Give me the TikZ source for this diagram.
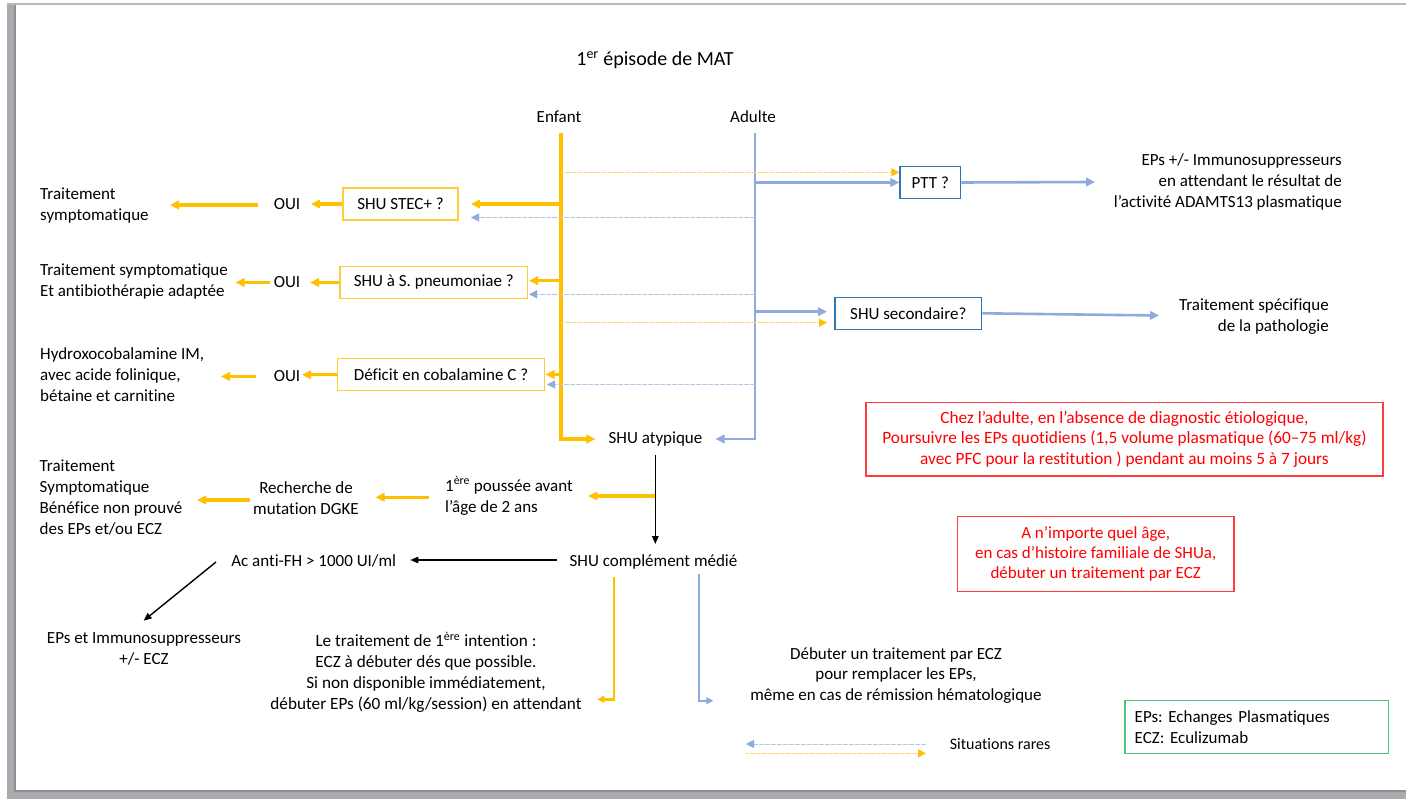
\documentclass[tikz,border=0pt]{standalone}
\usepackage{fontspec}
\setmainfont{Carlito}[Ligatures={NoCommon}]
\usetikzlibrary{arrows.meta}
\definecolor{gold}{HTML}{FFC000}
\definecolor{goldbox}{HTML}{FFCC33}
\definecolor{lblue}{HTML}{8FAADC}
\definecolor{dblue}{HTML}{2E75B6}
\definecolor{rred}{HTML}{FF0000}
\definecolor{rborder}{HTML}{FF3B3B}
\definecolor{ggreen}{HTML}{4CC27A}
\definecolor{framec}{HTML}{A9ABAE}
\definecolor{framed}{HTML}{8E9094}
\newcommand\myfs{\fontsize{17pt}{21pt}\selectfont}
\frenchspacing
\begin{document}
\begin{tikzpicture}[x=1pt,y=-1pt,
  every node/.style={font=\myfs, inner sep=0pt},
  orA/.style={draw=gold, line width=3.1pt, -{Triangle[length=9pt,width=8.5pt]}},
  orS/.style={draw=gold, line width=2.6pt, -{Triangle[length=7pt,width=7pt]}},
  blA/.style={draw=lblue, line width=2.9pt, -{Triangle[length=9pt,width=8.5pt]}},
  blS/.style={draw=lblue, line width=2.6pt, -{Triangle[length=9pt,width=8.5pt]}},
  blT/.style={draw=lblue, line width=2.2pt, -{Triangle[length=7pt,width=7pt]}},
  dotO/.style={draw=gold!55, line width=0.9pt, dash pattern=on 0.6pt off 0.6pt, -{Triangle[length=8pt,width=8pt,color=gold]}},
  dotB/.style={draw=lblue!65, line width=0.9pt, dash pattern=on 0.6pt off 0.6pt, -{Triangle[length=8pt,width=8pt,color=lblue]}},
  blk/.style={draw=black, line width=1.4pt, -{Triangle[length=8pt,width=6.5pt]}},
  obox/.style={draw=goldbox, line width=1.2pt, minimum height=32pt},
  bbox/.style={draw=dblue, line width=1.3pt, minimum height=32pt},
  rbox/.style={draw=rborder, line width=1.4pt, text=rred, align=center},
  gbox/.style={draw=ggreen, line width=1.3pt, align=left}
]
\useasboundingbox (0,0) rectangle (1406,799);
% page frame
\fill[white] (0,0) rectangle (1406,799);
\fill[framec] (7,3) rectangle (16,799);
\fill[framec] (7,790) rectangle (1406,799);
\fill[framec!85] (7,3) rectangle (1406,5);
\fill[framed] (14,5) rectangle (16,790);
\fill[framed] (14,790) rectangle (1406,792);

% title and columns
\node (title) at (655,60) {\fontsize{20pt}{24pt}\selectfont 1\textsuperscript{er} épisode de MAT};
\node (enf) at (559,117) {Enfant};
\node (adu) at (753,117) {Adulte};
\coordinate (eT) at (561,133);
\coordinate (aT) at (755,133);

% SHU atypique
\node[inner xsep=13pt] (shuA) at (655.5,439) {SHU atypique};
\draw[orA] (eT) |- (shuA.west);
\draw[blA] (aT) |- (shuA.east);

% row 1
\node[obox, minimum width=115pt] (stec) at (400.5,204) {SHU STEC+ ?};
\node (oui1) at (287,204.5) {OUI};
\node[anchor=west, align=left] (res1) at (40,205.5) {Traitement\\symptomatique};
\coordinate (r1a) at (471,204);
\coordinate (r1b) at (471,217.5);
\coordinate (r1c) at (311,204);
\coordinate (r1d) at (258,205);
\coordinate (r1e) at (170,205);
\draw[orA] (eT |- r1a) -- (r1a);
\draw[dotB] (aT |- r1b) -- (r1b);
\draw[orA] (stec.west) -- (r1c);
\draw[orA] (r1d) -- (r1e);

% row 2
\node[obox, minimum width=187.5pt] (pneu) at (433.8,282.5) {SHU à S. pneumoniae ?};
\node (oui2) at (287,282) {OUI};
\node[anchor=west, align=left] (res2) at (40,281.2) {Traitement symptomatique\\Et antibiothérapie adaptée};
\coordinate (r2a) at (529,280.7);
\coordinate (r2b) at (529,294.3);
\coordinate (r2c) at (310,282.5);
\coordinate (r2d) at (269.5,282.5);
\coordinate (r2e) at (235.5,282.5);
\draw[orA] (eT |- r2a) -- (r2a);
\draw[dotB] (aT |- r2b) -- (r2b);
\draw[orA] (pneu.west) -- (r2c);
\draw[orA] (r2d) -- (r2e);

% row 3
\node[obox, minimum width=206.7pt] (cob) at (441,374.8) {Déficit en cobalamine C ?};
\node (oui3) at (287,376) {OUI};
\node[anchor=west, align=left] (res3) at (40,375) {Hydroxocobalamine IM,\\avec acide folinique,\\bétaine et carnitine};
\coordinate (r3a) at (545.5,374.5);
\coordinate (r3b) at (547,384.5);
\coordinate (r3c) at (302,374.8);
\coordinate (r3d) at (256,376.5);
\coordinate (r3e) at (221,376.5);
\draw[orA] (eT |- r3a) -- (r3a);
\draw[dotB] (aT |- r3b) -- (r3b);
\draw[orA] (cob.west) -- (r3c);
\draw[orA] (r3d) -- (r3e);

% PTT
\node[bbox, minimum width=60.7pt] (ptt) at (930.3,182.5) {PTT ?};
\coordinate (pO) at ([yshift=10.2pt]ptt.west);
\draw[dotO] (eT |- pO) -- (pO);
\draw[blS] (aT |- ptt.west) -- (ptt.west);
\coordinate (pE) at (1095,182);
\draw[blS] (ptt.east) -- (pE);
\node[anchor=east, align=right] (epsR) at (1342,182.2) {EPs +/- Immunosuppresseurs\\en attendant le résultat de\\l’activité ADAMTS13 plasmatique};

% SHU secondaire
\node[bbox, minimum width=146.7pt] (sec) at (908.3,313.3) {SHU secondaire?};
\coordinate (sB) at (827,311.7);
\coordinate (sO) at (827,322.7);
\draw[blS] (aT |- sB) -- (sB);
\draw[dotO] (eT |- sO) -- (sO);
\coordinate (sE) at (1159,315.5);
\draw[blS] (sec.east) -- (sE);
\node[anchor=east, align=right] (tsp) at (1329,316.2) {Traitement spécifique\\de la pathologie};

% red boxes
\node[rbox, minimum width=517pt, minimum height=73.7pt, font=\fontsize{17.3pt}{20.5pt}\selectfont] (red1) at (1124.5,439.2) {Chez l’adulte, en l’absence de diagnostic étiologique,\\Poursuivre les EPs quotidiens (1,5 volume plasmatique (60–75 ml/kg)\\avec PFC pour la restitution ) pendant au moins 5 à 7 jours};
\node[rbox, minimum width=276.6pt, minimum height=74.6pt, font=\fontsize{17pt}{19.7pt}\selectfont] (red2) at (1095.7,554) {A n’importe quel âge,\\en cas d’histoire familiale de SHUa,\\débuter un traitement par ECZ};

% black arrow down
\coordinate (k1) at (655.3,455);
\coordinate (k2) at (655.3,544);
\draw[blk] (k1) -- (k2);
\coordinate (pA) at (588.3,496);
\draw[orA] (k1 |- pA) -- (pA);
\node[anchor=west, align=left] (pous) at (445,496) {1\textsuperscript{ère} poussée avant\\l'âge de 2 ans};
\coordinate (q1) at (428.5,497.3);
\coordinate (q2) at (375.6,497.3);
\draw[orA] (q1) -- (q2);
\node[align=center] (rech) at (306,497.8) {Recherche de\\mutation DGKE};
\coordinate (q3) at (249.8,500);
\coordinate (q4) at (197,500);
\draw[orA] (q3) -- (q4);
\node[anchor=west, align=left] (res4) at (39.5,497.5) {Traitement\\Symptomatique\\Bénéfice non prouvé\\des EPs et/ou ECZ};

% SHU complement
\node (shuC) at (653.5,561.5) {SHU complément médié};
\coordinate (c1) at (557,560);
\coordinate (c2) at (410.3,560);
\draw[blk] (c1) -- (c2);
\node (acfh) at (313.7,561) {Ac anti-FH > 1000 UI/ml};
\coordinate (d1) at (216,562);
\coordinate (d2) at (143.6,620.7);
\draw[blk] (d1) -- (d2);
\node[align=center] (epsI) at (144,649.2) {EPs et Immunosuppresseurs\\+/- ECZ};

\coordinate (o1) at (614,576.7);
\coordinate (o2) at (597.3,699.3);
\draw[orS] (o1) |- (o2);
\coordinate (b1) at (698.7,574);
\coordinate (b2) at (713.3,700.7);
\draw[blT] (b1) |- (b2);
\node[align=center, font=\fontsize{17.2pt}{20.7pt}\selectfont] (letr) at (426,672.2) {Le traitement de 1\textsuperscript{ère} intention :\\ECZ à débuter dés que possible.\\Si non disponible immédiatement,\\débuter EPs (60 ml/kg/session) en attendant};
\node[align=center, font=\fontsize{17pt}{20.5pt}\selectfont] (debE) at (896,675.1) {Débuter un traitement par ECZ\\pour remplacer les EPs,\\même en cas de rémission hématologique};

% legend
\coordinate (L1) at (926,744);
\coordinate (L2) at (746,744);
\coordinate (L3) at (746,753.3);
\coordinate (L4) at (926,753.3);
\draw[dotB] (L1) -- (L2);
\draw[dotO] (L3) -- (L4);
\node[anchor=west, font=\fontsize{16pt}{20pt}\selectfont] (sitr) at (949.6,744) {Situations rares};

\node[gbox, minimum height=52.6pt, inner xsep=9.7pt, text width=244pt, font=\fontsize{17pt}{20.4pt}\selectfont] (gleg) at (1256.7,727) {EPs: Echanges Plasmatiques\\ECZ: Eculizumab};
\end{tikzpicture}
\end{document}
